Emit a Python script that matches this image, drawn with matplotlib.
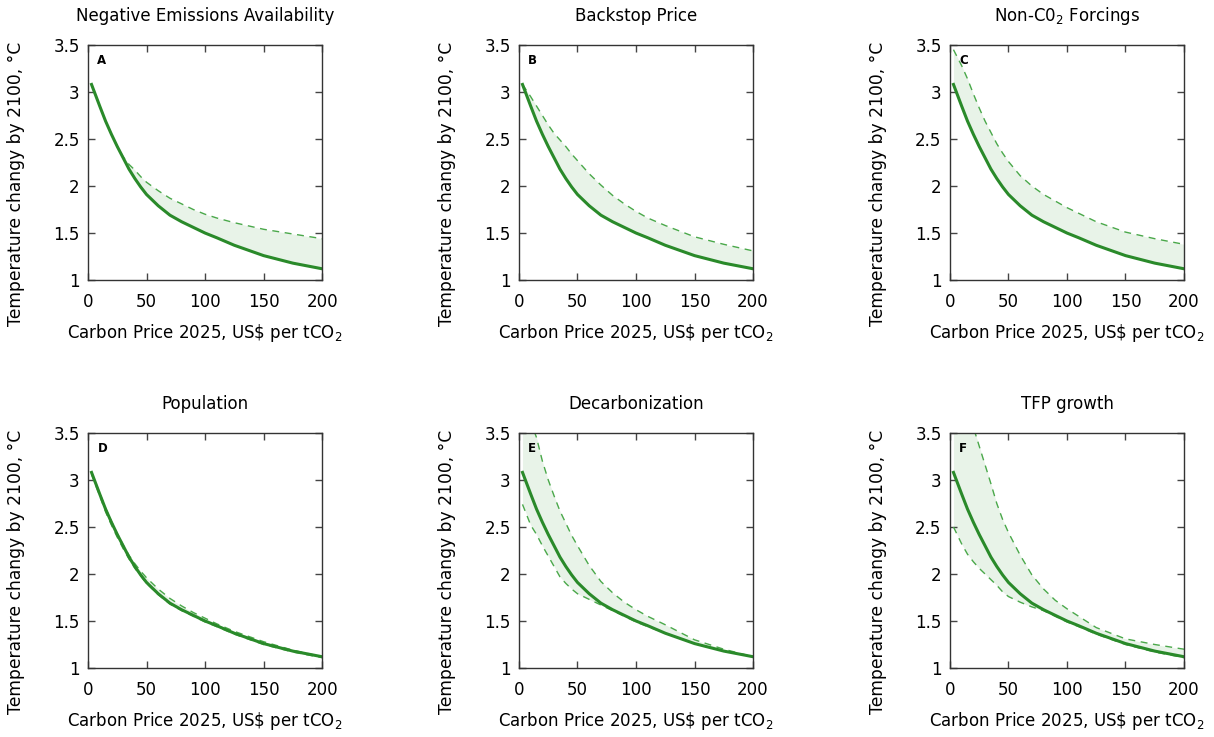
import numpy as np
import matplotlib.pyplot as plt

# carbon price grid, US$ per tCO2
price = np.array([3, 10, 15, 20, 25, 30, 35, 40, 45, 50, 60, 70, 80, 90, 100, 110, 125, 150, 175, 200])

# reference run (solid line), same in every panel
central = np.array([3.08, 2.85, 2.69, 2.55, 2.42, 2.30, 2.18, 2.08, 1.99, 1.91,
                    1.79, 1.69, 1.62, 1.56, 1.50, 1.45, 1.37, 1.26, 1.18, 1.12])

# upper / lower bounds of the sensitivity range
negem_hi = np.array([3.08, 2.85, 2.69, 2.55, 2.42, 2.31, 2.23, 2.17, 2.10, 2.04,
                     1.95, 1.87, 1.81, 1.75, 1.70, 1.66, 1.61, 1.54, 1.49, 1.44])
negem_lo = central.copy()

backstop_hi = np.array([3.08, 2.95, 2.85, 2.75, 2.65, 2.56, 2.49, 2.42, 2.34, 2.27,
                        2.13, 2.01, 1.90, 1.81, 1.73, 1.66, 1.58, 1.46, 1.38, 1.31])
backstop_lo = central.copy()

nonco2_hi = np.array([3.45, 3.28, 3.14, 2.98, 2.83, 2.69, 2.57, 2.45, 2.35, 2.26,
                      2.11, 2.00, 1.91, 1.84, 1.77, 1.71, 1.62, 1.51, 1.44, 1.38])
nonco2_lo = central.copy()

pop_hi = np.array([3.08, 2.86, 2.70, 2.56, 2.43, 2.31, 2.20, 2.11, 2.03, 1.96,
                   1.84, 1.74, 1.66, 1.59, 1.53, 1.47, 1.39, 1.28, 1.19, 1.12])
pop_lo = np.array([3.06, 2.83, 2.66, 2.52, 2.39, 2.27, 2.16, 2.06, 1.98, 1.90,
                   1.78, 1.68, 1.61, 1.55, 1.49, 1.44, 1.36, 1.25, 1.17, 1.11])

decarb_hi = np.array([3.90, 3.62, 3.45, 3.20, 3.00, 2.83, 2.67, 2.54, 2.41, 2.30,
                      2.09, 1.92, 1.80, 1.70, 1.62, 1.55, 1.46, 1.30, 1.20, 1.12])
decarb_lo = np.array([2.74, 2.52, 2.42, 2.30, 2.19, 2.08, 1.97, 1.90, 1.84, 1.79,
                      1.73, 1.67, 1.61, 1.55, 1.49, 1.44, 1.37, 1.26, 1.18, 1.12])

tfp_hi = np.array([4.30, 3.98, 3.76, 3.56, 3.36, 3.16, 2.96, 2.75, 2.58, 2.44,
                   2.20, 1.99, 1.84, 1.72, 1.63, 1.55, 1.43, 1.31, 1.25, 1.20])
tfp_lo = np.array([2.50, 2.32, 2.21, 2.13, 2.06, 2.00, 1.94, 1.88, 1.81, 1.76,
                   1.70, 1.65, 1.61, 1.55, 1.49, 1.44, 1.36, 1.25, 1.17, 1.11])

titles = ["Negative Emissions Availability", "Backstop Price", "Non-C0$_2$ Forcings",
          "Population", "Decarbonization", "TFP growth"]
letters = ["A", "B", "C", "D", "E", "F"]
highs = [negem_hi, backstop_hi, nonco2_hi, pop_hi, decarb_hi, tfp_hi]
lows = [negem_lo, backstop_lo, nonco2_lo, pop_lo, decarb_lo, tfp_lo]

green = "#2a8a2a"
dash_green = "#4aa84a"
fill_green = "#e8f3e8"

plt.rcParams['font.family'] = ['DejaVu Sans']
fig = plt.figure(figsize=(12.14, 7.37), dpi=100)

lefts = [0.0725, 0.4275, 0.7825]
bottoms = [0.620, 0.0936]
w, h = 0.1928, 0.319

for i in range(6):
    ax = fig.add_axes([lefts[i % 3], bottoms[i // 3], w, h])
    ax.fill_between(price, lows[i], highs[i], color=fill_green, lw=0)
    ax.plot(price, highs[i], "--", color=dash_green, lw=1, dashes=(5, 4))
    ax.plot(price, lows[i], "--", color=dash_green, lw=1, dashes=(5, 4))
    ax.plot(price, central, "-", color=green, lw=2.2)
    ax.set_xlim(0, 200)
    ax.set_ylim(1, 3.5)
    ax.set_xticks([0, 50, 100, 150, 200])
    ax.set_yticks([1, 1.5, 2, 2.5, 3, 3.5])
    ax.set_yticklabels(["1", "1.5", "2", "2.5", "3", "3.5"])
    ax.tick_params(direction="in", top=True, right=True, length=5, width=1,
                   color="#444444", labelsize=12)
    ax.tick_params(axis="x", pad=9)
    ax.tick_params(axis="y", pad=6)
    for s in ax.spines.values():
        s.set_color("#333333")
        s.set_linewidth(1)
    ax.set_title(titles[i], fontsize=12, pad=17)
    ax.set_xlabel("Carbon Price 2025, US\\$ per tCO$_2$", fontsize=12, labelpad=8)
    ax.set_ylabel("Temperature changy by 2100, °C", fontsize=12.3)
    ax.yaxis.set_label_coords(-0.268, 0.41)
    ax.text(0.04, 0.935, letters[i], transform=ax.transAxes, fontsize=8.5,
            fontweight="bold", va="center", ha="left")

fig.savefig("out.png", dpi=100)
